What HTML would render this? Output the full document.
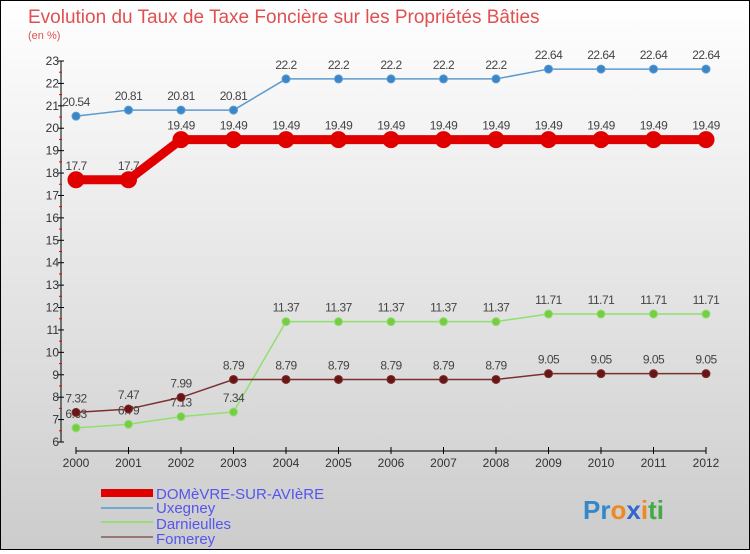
<!DOCTYPE html>
<html><head><meta charset="utf-8">
<style>
body{margin:0;width:750px;height:550px;overflow:hidden;font-family:"Liberation Sans",sans-serif}
#wrap{position:relative;width:748px;height:548px;border:1px solid #000;background:linear-gradient(#ffffff,#cccccc)}
</style></head><body>
<div id="wrap">
<svg id="chart" width="748" height="548">
<text x="27" y="22" font-size="19" fill="#e05050">Evolution du Taux de Taxe Foncière sur les Propriétés Bâties</text>
<text x="27" y="38" font-size="11" fill="#e05050">(en %)</text>
<g id="axes"></g><g id="series"></g>
<g>
<rect x="100" y="488" width="52" height="8" fill="#e00000"/>
<text x="155" y="498" font-size="15" fill="#5555ee">DOMèVRE-SUR-AVIèRE</text>
<rect x="100" y="506" width="52" height="2" fill="#6fa8d0"/>
<text x="155" y="512" font-size="15" fill="#5555ee">Uxegney</text>
<rect x="100" y="520" width="52" height="2" fill="#99dd77"/>
<text x="155" y="528" font-size="15" fill="#5555ee">Darnieulles</text>
<rect x="100" y="535" width="52" height="2" fill="#997777"/>
<text x="155" y="543" font-size="15" fill="#5555ee">Fomerey</text>
</g>
<text x="582" y="518" font-size="26" font-weight="bold"><tspan fill="#3388cc">Pr</tspan><tspan fill="#ee8822">o</tspan><tspan fill="#3366cc">x</tspan><tspan fill="#ee8822">i</tspan><tspan fill="#44aa44">ti</tspan></text>
</svg></div>
<script>
const years=[2000,2001,2002,2003,2004,2005,2006,2007,2008,2009,2010,2011,2012];
const domevre=[17.7,17.7,19.49,19.49,19.49,19.49,19.49,19.49,19.49,19.49,19.49,19.49,19.49];
const uxegney=[20.54,20.81,20.81,20.81,22.2,22.2,22.2,22.2,22.2,22.64,22.64,22.64,22.64];
const darnieulles=[6.63,6.79,7.13,7.34,11.37,11.37,11.37,11.37,11.37,11.71,11.71,11.71,11.71];
const fomerey=[7.32,7.47,7.99,8.79,8.79,8.79,8.79,8.79,8.79,9.05,9.05,9.05,9.05];
const yTicks=[6,7,8,9,10,11,12,13,14,15,16,17,18,19,20,21,22,23];
const NS="http://www.w3.org/2000/svg";
const X=i=>75+i*52.5;
const Y=v=>441-(v-6)*(381/17);
function mk(t,a,p){const e=document.createElementNS(NS,t);for(const k in a)e.setAttribute(k,a[k]);p.appendChild(e);return e;}
const axes=document.getElementById('axes');
let l=mk('line',{x1:60,y1:Y(23),x2:60,y2:Y(6),stroke:'#000'},axes);


l=mk('line',{x1:75,y1:450,x2:705,y2:450,stroke:'#000'},axes);


yTicks.forEach(v=>{
 mk('line',{x1:57,x2:63,y1:Y(v),y2:Y(v),stroke:'#000'},axes);
 if(v<23)mk('line',{x1:58,x2:61,y1:Y(v+0.5),y2:Y(v+0.5),stroke:'#e00'},axes);
 const t=mk('text',{x:58,y:Y(v)+4,'font-size':12,fill:'#333','text-anchor':'end'},axes);
 t.textContent=v;
 
 
});
years.forEach((y,i)=>{
 mk('line',{x1:X(i),x2:X(i),y1:446,y2:453,stroke:'#000'},axes);
 const t=mk('text',{x:X(i),y:466,'font-size':12,fill:'#333','text-anchor':'middle'},axes);
 t.textContent=y;
 
 
});
const sg=document.getElementById('series');
function draw(data,name,col,dot,w,r){
 const g=mk('g',{},sg);
 
 
 mk('polyline',{points:data.map((v,i)=>X(i)+','+Y(v)).join(' '),fill:'none',stroke:col,'stroke-width':w},g);
 data.forEach((v,i)=>{
  const c=mk('circle',{cx:X(i),cy:Y(v),r:r,fill:dot,stroke:col,'stroke-width':1},g);
  
  
  const t=mk('text',{x:X(i),y:Y(v)-10,'font-size':12,fill:'#444','text-anchor':'middle','letter-spacing':'-0.5'},g);
  t.textContent=v;
  
  
 });
}
draw(uxegney,'uxegney','#5b9bd0','#3a86c8',1.5,4);
draw(darnieulles,'darnieulles','#90e070','#77cc44',1.5,4);
draw(fomerey,'fomerey','#7a3030','#6a1515',1.5,4);
draw(domevre,'domevre','#e00000','#e00000',9,8);
</script>
</body></html>
